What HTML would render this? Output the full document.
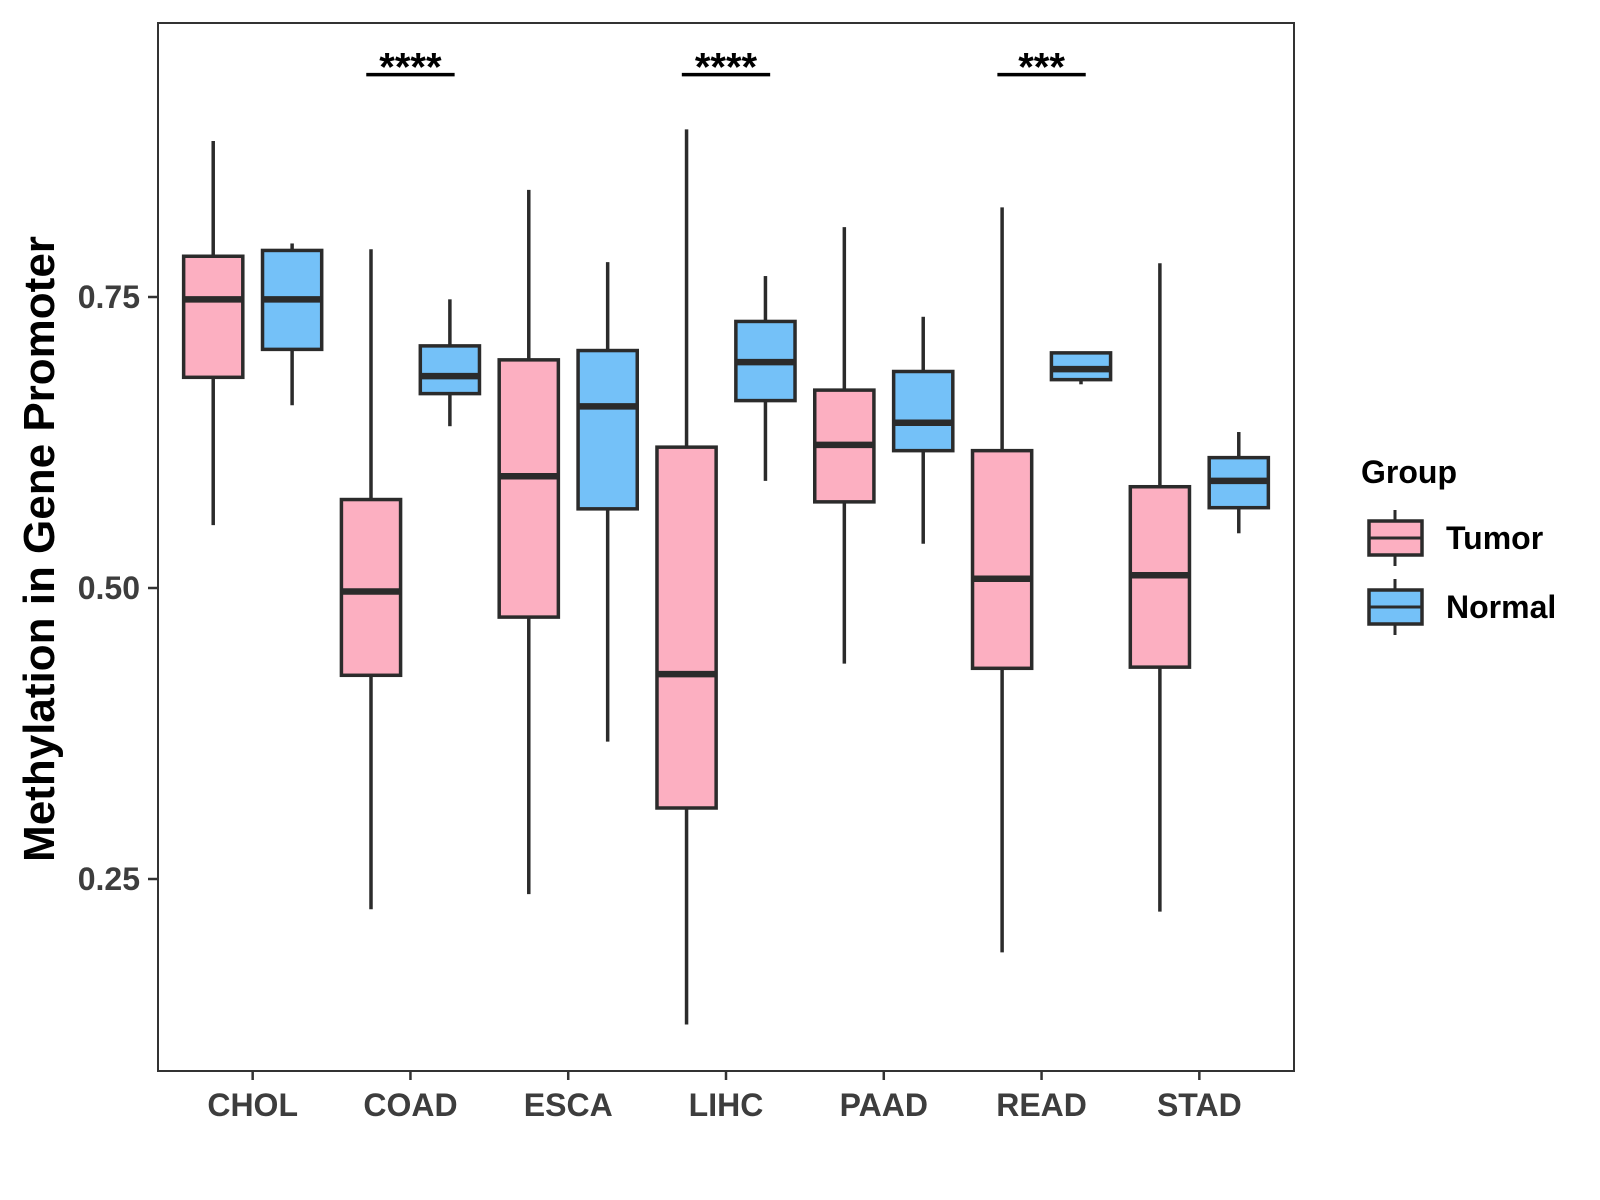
<!DOCTYPE html>
<html><head><meta charset="utf-8"><style>
html,body{margin:0;padding:0;background:#fff;}
svg{display:block;font-family:"Liberation Sans",Arial,sans-serif;}
</style></head><body>
<svg id="chart" width="1600" height="1200" viewBox="0 0 1600 1200">
<rect x="0" y="0" width="1600" height="1200" fill="#fff"/>
<g id="plot"></g>
</svg>
<script>
const categories = ["CHOL","COAD","ESCA","LIHC","PAAD","READ","STAD"];
// [lowWhisker, q1, median, q3, highWhisker]
const tumorStats = [
 [0.554,0.681,0.748,0.785,0.884],
 [0.224,0.425,0.497,0.576,0.791],
 [0.237,0.475,0.596,0.696,0.842],
 [0.125,0.311,0.426,0.621,0.894],
 [0.435,0.574,0.623,0.670,0.810],
 [0.187,0.431,0.508,0.618,0.827],
 [0.222,0.432,0.511,0.587,0.779]
];
const normalStats = [
 [0.657,0.705,0.748,0.790,0.796],
 [0.639,0.667,0.682,0.708,0.748],
 [0.368,0.568,0.656,0.704,0.780],
 [0.592,0.661,0.694,0.729,0.768],
 [0.538,0.618,0.642,0.686,0.733],
 [0.675,0.679,0.688,0.702,0.703],
 [0.547,0.569,0.592,0.612,0.634]
];
const yTicks = [0.25,0.50,0.75];
const yTickLabels = ["0.25","0.50","0.75"];
const sigCategories = ["COAD","LIHC","READ"];
const sigLabels = ["****","****","***"];
const sigLevel = 0.941;

const NS="http://www.w3.org/2000/svg";
const P={l:158,t:23,r:1294,b:1071};
const unit=(P.r-P.l)/7.2;
function xScale(i){return P.l+(0.6+i)*unit;}
function yScale(v){return 588-(v-0.5)*1164;}
const g=document.getElementById('plot');
function mk(tag,attrs,parent){const e=document.createElementNS(NS,tag);for(const k in attrs)e.setAttribute(k,attrs[k]);(parent||g).appendChild(e);return e;}

const border=mk('rect',{x:P.l,y:P.t,width:P.r-P.l,height:P.b-P.t,fill:'none',stroke:'#333',"stroke-width":2});



const colors={tumor:'#FCAFC1',normal:'#74C1F8'};
const bw=0.375*unit;
function drawBox(cx,s,fill,name){
  const grp=mk('g',{});
  
  
  mk('line',{x1:cx,x2:cx,y1:yScale(s[4]),y2:yScale(s[3]),stroke:'#2b2b2b',"stroke-width":3.5},grp);
  mk('line',{x1:cx,x2:cx,y1:yScale(s[1]),y2:yScale(s[0]),stroke:'#2b2b2b',"stroke-width":3.5},grp);
  mk('rect',{x:cx-bw/2,y:yScale(s[3]),width:bw,height:yScale(s[1])-yScale(s[3]),fill:fill,stroke:'#2b2b2b',"stroke-width":3.5},grp);
  mk('line',{x1:cx-bw/2,x2:cx+bw/2,y1:yScale(s[2]),y2:yScale(s[2]),stroke:'#2b2b2b',"stroke-width":6.5},grp);
}
categories.forEach((c,i)=>{
  const cx=xScale(i);
  drawBox(cx-0.25*unit,tumorStats[i],colors.tumor,'box-tumor-'+c.toLowerCase());
  drawBox(cx+0.25*unit,normalStats[i],colors.normal,'box-normal-'+c.toLowerCase());
  const tk=mk('line',{x1:cx,x2:cx,y1:P.b,y2:P.b+9,stroke:'#333',"stroke-width":2.5});
  
  
  const t=mk('text',{x:cx,y:P.b+45,"text-anchor":"middle","font-size":32,"font-weight":"bold",fill:'#3d3d3d'});
  t.textContent=c;
  
  
});
yTicks.forEach((v,i)=>{
  const y=yScale(v);
  const tk=mk('line',{x1:P.l-10,x2:P.l,y1:y,y2:y,stroke:'#333',"stroke-width":2.5});
  
  
  const t=mk('text',{x:P.l-18,y:y+11,"text-anchor":"end","font-size":32,"font-weight":"bold",fill:'#3d3d3d'});
  t.textContent=yTickLabels[i];
  
  
});
sigCategories.forEach((c,i)=>{
  const cx=xScale(categories.indexOf(c));
  const y=yScale(sigLevel);
  const ln=mk('line',{x1:cx-0.28*unit,x2:cx+0.28*unit,y1:y,y2:y,stroke:'#000',"stroke-width":3.5});
  
  
  const t=mk('text',{x:cx,y:y+6,"text-anchor":"middle","font-size":40,"font-weight":"bold",fill:'#000'});
  t.textContent=sigLabels[i];
  
  
});
const yt=mk('text',{x:0,y:0,transform:'translate(54,549) rotate(-90)',"text-anchor":"middle","font-size":44,"font-weight":"bold",fill:'#000'});
yt.textContent='Methylation in Gene Promoter';


const lg=mk('g',{transform:'translate(-8,-2)'});


const lt=mk('text',{x:1369,y:485,"font-size":32,"font-weight":"bold",fill:'#000'},lg);
lt.textContent='Group';


[['Tumor',colors.tumor,540],['Normal',colors.normal,609]].forEach(([lab,col,cy])=>{
  const e=mk('g',{},lg);
  
  
  mk('line',{x1:1403,x2:1403,y1:cy-28,y2:cy+28,stroke:'#2b2b2b',"stroke-width":3},e);
  mk('rect',{x:1377,y:cy-17,width:53,height:34,fill:col,stroke:'#2b2b2b',"stroke-width":3.5},e);
  mk('line',{x1:1377,x2:1430,y1:cy,y2:cy,stroke:'#2b2b2b',"stroke-width":3},e);
  const t=mk('text',{x:1454,y:cy+11,"font-size":32,"font-weight":"bold",fill:'#000'},e);
  t.textContent=lab;
});
</script>
</body></html>
